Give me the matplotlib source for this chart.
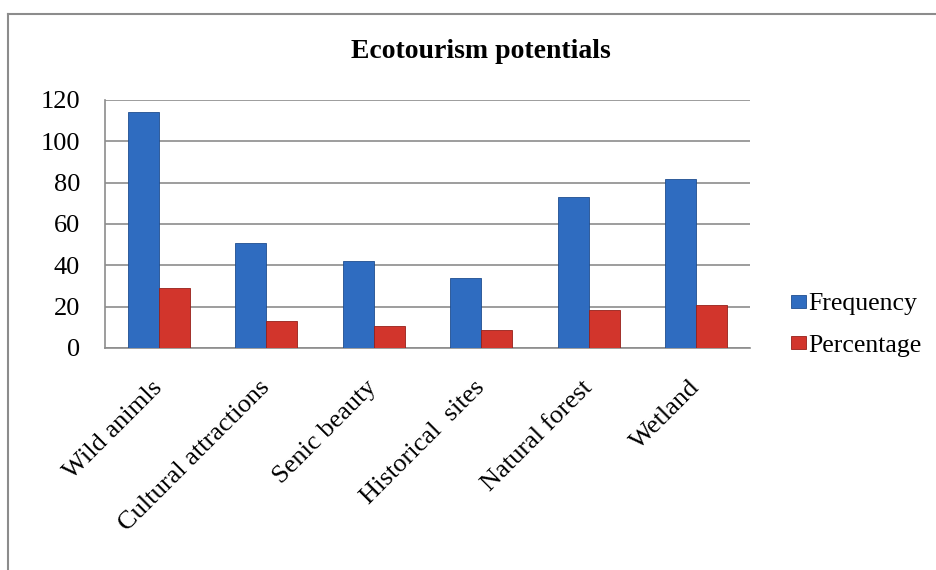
import numpy as np
import matplotlib.pyplot as plt
from matplotlib.lines import Line2D

categories = ["Wild animls", "Cultural attractions", "Senic beauty",
              "Historical  sites", "Natural forest", "Wetland"]
frequency = [114, 51, 42, 34, 73, 82]
percentage = [28.8, 12.9, 10.6, 8.6, 18.4, 20.7]
yticks = [0, 20, 40, 60, 80, 100, 120]

plt.rcParams['font.family'] = ['Liberation Serif', 'DejaVu Serif']

fig = plt.figure(figsize=(9.37, 5.7), dpi=100)
ax = fig.add_axes([0.112, 0.3895, 0.6884, 0.4351])

x = np.arange(len(categories))
w = 0.29
ax.bar(x - w / 2, frequency, w, color='#2F6CC0', edgecolor='#1F4E8F',
       linewidth=0.6, label='Frequency', zorder=3)
ax.bar(x + w / 2, percentage, w, color='#D2352C', edgecolor='#962019',
       linewidth=0.6, label='Percentage', zorder=3)

ax.set_xlim(-0.5, len(categories) - 0.5)
ax.set_ylim(0, 120)
ax.set_yticks(yticks)
ax.set_yticklabels([str(v) for v in yticks], fontsize=19)
ax.yaxis.grid(True, color='#8c8c8c', linewidth=1.2, zorder=0)
ax.set_xticks(x)
ax.set_xticklabels(categories, rotation=45, ha='right', va='center',
                   rotation_mode='anchor', fontsize=19)
ax.tick_params(axis='x', length=0, pad=26)
ax.tick_params(axis='y', length=0, pad=18)

for side in ('top', 'right'):
    ax.spines[side].set_visible(False)
for side in ('left', 'bottom'):
    ax.spines[side].set_color('#8c8c8c')
    ax.spines[side].set_linewidth(1.2)

fig.text(0.513, 0.909, "Ecotourism potentials", ha='center', va='center',
         fontsize=20, fontweight='bold')

ax.legend(loc='center left', bbox_to_anchor=(0.819, 0.43),
          bbox_transform=fig.transFigure, frameon=False,
          fontsize=18.5, handlelength=0.6, handleheight=0.4,
          handletextpad=0.1, labelspacing=0.75)

# outer chart frame
fig.add_artist(Line2D([0.0085, 1.0], [0.975, 0.975], transform=fig.transFigure,
                      color='#8c8c8c', linewidth=1.5))
fig.add_artist(Line2D([0.0085, 0.0085], [0.0, 0.975], transform=fig.transFigure,
                      color='#8c8c8c', linewidth=1.5))

fig.savefig('out.png', dpi=100)
